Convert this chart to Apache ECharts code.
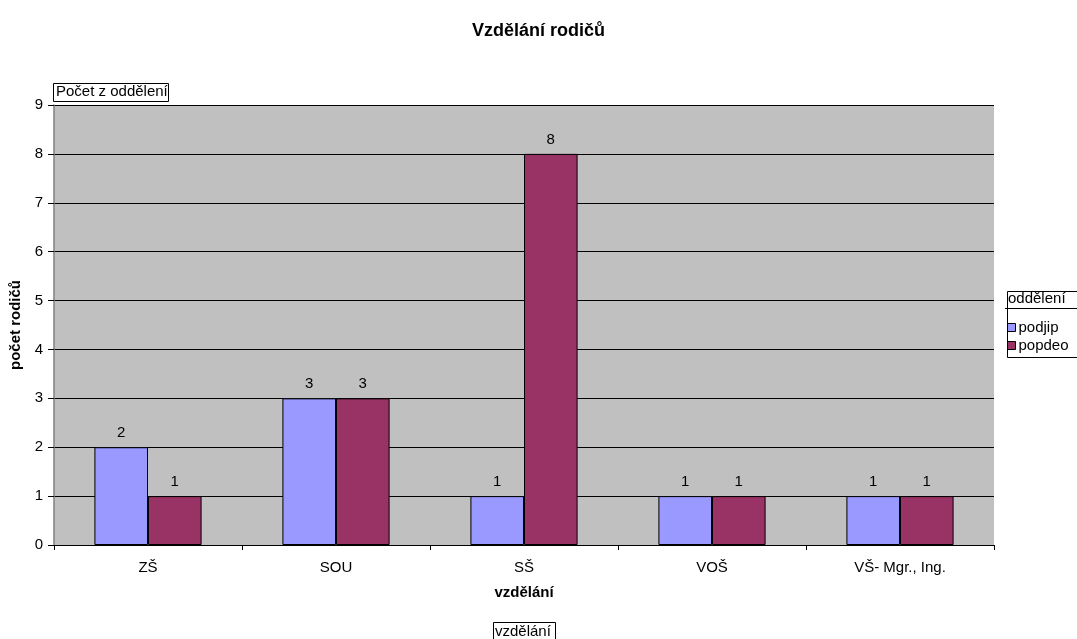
<!DOCTYPE html>
<html>
<head>
<meta charset="utf-8">
<script src="https://cdn.jsdelivr.net/npm/echarts@6/dist/echarts.min.js"></script>
<style>
  html, body { margin: 0; padding: 0; background: #fff; }
  #chart { width: 1077px; height: 639px; }
</style>
</head>
<body>
<div id="chart"></div>
<script>
// Education level of parents, counted per department
const categories = ['ZŠ', 'SOU', 'SŠ', 'VOŠ', 'VŠ- Mgr., Ing.'];
const podjip = [2, 3, 1, 1, 1];
const popdeo = [1, 3, 8, 1, 1];
const seriesNames = ['podjip', 'popdeo'];
const yTicks = [0, 1, 2, 3, 4, 5, 6, 7, 8, 9];

const FONT = '"Liberation Sans", Arial, sans-serif';
const BASE = 15;
const chart = echarts.init(document.getElementById('chart'), null, { renderer: 'canvas' });

const labelStyle = { show: true, position: 'top', distance: 7, color: '#000', fontFamily: FONT, fontSize: BASE };

chart.setOption({
  animation: false,
  backgroundColor: '#fff',
  title: {
    text: 'Vzdělání rodičů',
    left: 'center',
    top: 17,
    textStyle: { fontFamily: FONT, fontSize: 18, fontWeight: 'bold', color: '#000' }
  },
  grid: { left: 54, right: 83, top: 105, bottom: 94, backgroundColor: '#C0C0C0', show: true, borderWidth: 0 },
  legend: {
    orient: 'vertical',
    left: 1007,
    top: 320,
    padding: 0,
    itemGap: 3,
    itemWidth: 8,
    itemHeight: 8,
    icon: 'rect',
    data: seriesNames,
    textStyle: { fontFamily: FONT, fontSize: BASE, color: '#000', padding: [0, 0, 0, -2] },
    itemStyle: { borderColor: '#000', borderWidth: 1 }
  },
  xAxis: {
    type: 'category',
    data: categories,
    name: 'vzdělání',
    nameLocation: 'middle',
    nameGap: 40,
    nameTextStyle: { fontFamily: FONT, fontSize: BASE, fontWeight: 'bold', color: '#000' },
    axisLine: { lineStyle: { color: '#000', width: 1 } },
    axisTick: { show: true, alignWithLabel: false, length: 5, lineStyle: { color: '#000' } },
    axisLabel: { fontFamily: FONT, fontSize: BASE, color: '#000', margin: 15 }
  },
  yAxis: {
    type: 'value',
    min: 0,
    max: 9,
    interval: 1,
    name: 'počet rodičů',
    nameLocation: 'middle',
    nameGap: 31,
    nameTextStyle: { fontFamily: FONT, fontSize: BASE, fontWeight: 'bold', color: '#000' },
    axisLine: { show: true, lineStyle: { color: '#808080', width: 1.5 } },
    axisTick: { show: true, length: 6, lineStyle: { color: '#000' } },
    axisLabel: {
      fontFamily: FONT, fontSize: BASE, color: '#000', margin: 11,
      formatter: v => (yTicks.includes(v) ? String(v) : '')
    },
    splitLine: { show: true, lineStyle: { color: '#000', width: 1 } }
  },
  series: [
    {
      name: seriesNames[0], type: 'bar', data: podjip,
      barGap: '0%', barCategoryGap: '43%',
      itemStyle: { color: '#9999FF', borderColor: '#000', borderWidth: 1 },
      label: labelStyle
    },
    {
      name: seriesNames[1], type: 'bar', data: popdeo,
      itemStyle: { color: '#993366', borderColor: '#000', borderWidth: 1 },
      label: labelStyle
    }
  ],
  graphic: [
    // field button for the data field
    { type: 'rect', left: 53, top: 83, shape: { width: 115, height: 18 },
      style: { fill: '#fff', stroke: '#000', lineWidth: 1 }, z: 10 },
    { type: 'text', left: 56, top: 84,
      style: { text: 'Počet z oddělení', font: BASE + 'px ' + FONT, fill: '#000' }, z: 11 },
    // legend frame with its field title
    { type: 'rect', left: 1005, top: 289, shape: { width: 80, height: 66 },
      style: { fill: 'none', stroke: '#000', lineWidth: 1 }, z: 10 },
    { type: 'line', shape: { x1: 1005, y1: 308.5, x2: 1077, y2: 308.5 },
      style: { stroke: '#000', lineWidth: 1 }, z: 10 },
    { type: 'text', left: 1008, top: 291,
      style: { text: 'oddělení', font: BASE + 'px ' + FONT, fill: '#000' }, z: 11 },
    // field button for the category field
    { type: 'rect', left: 493, top: 622, shape: { width: 62, height: 20 },
      style: { fill: '#fff', stroke: '#000', lineWidth: 1 }, z: 10 },
    { type: 'text', left: 495, top: 624,
      style: { text: 'vzdělání', font: BASE + 'px ' + FONT, fill: '#000' }, z: 11 }
  ]
});
</script>
</body>
</html>
